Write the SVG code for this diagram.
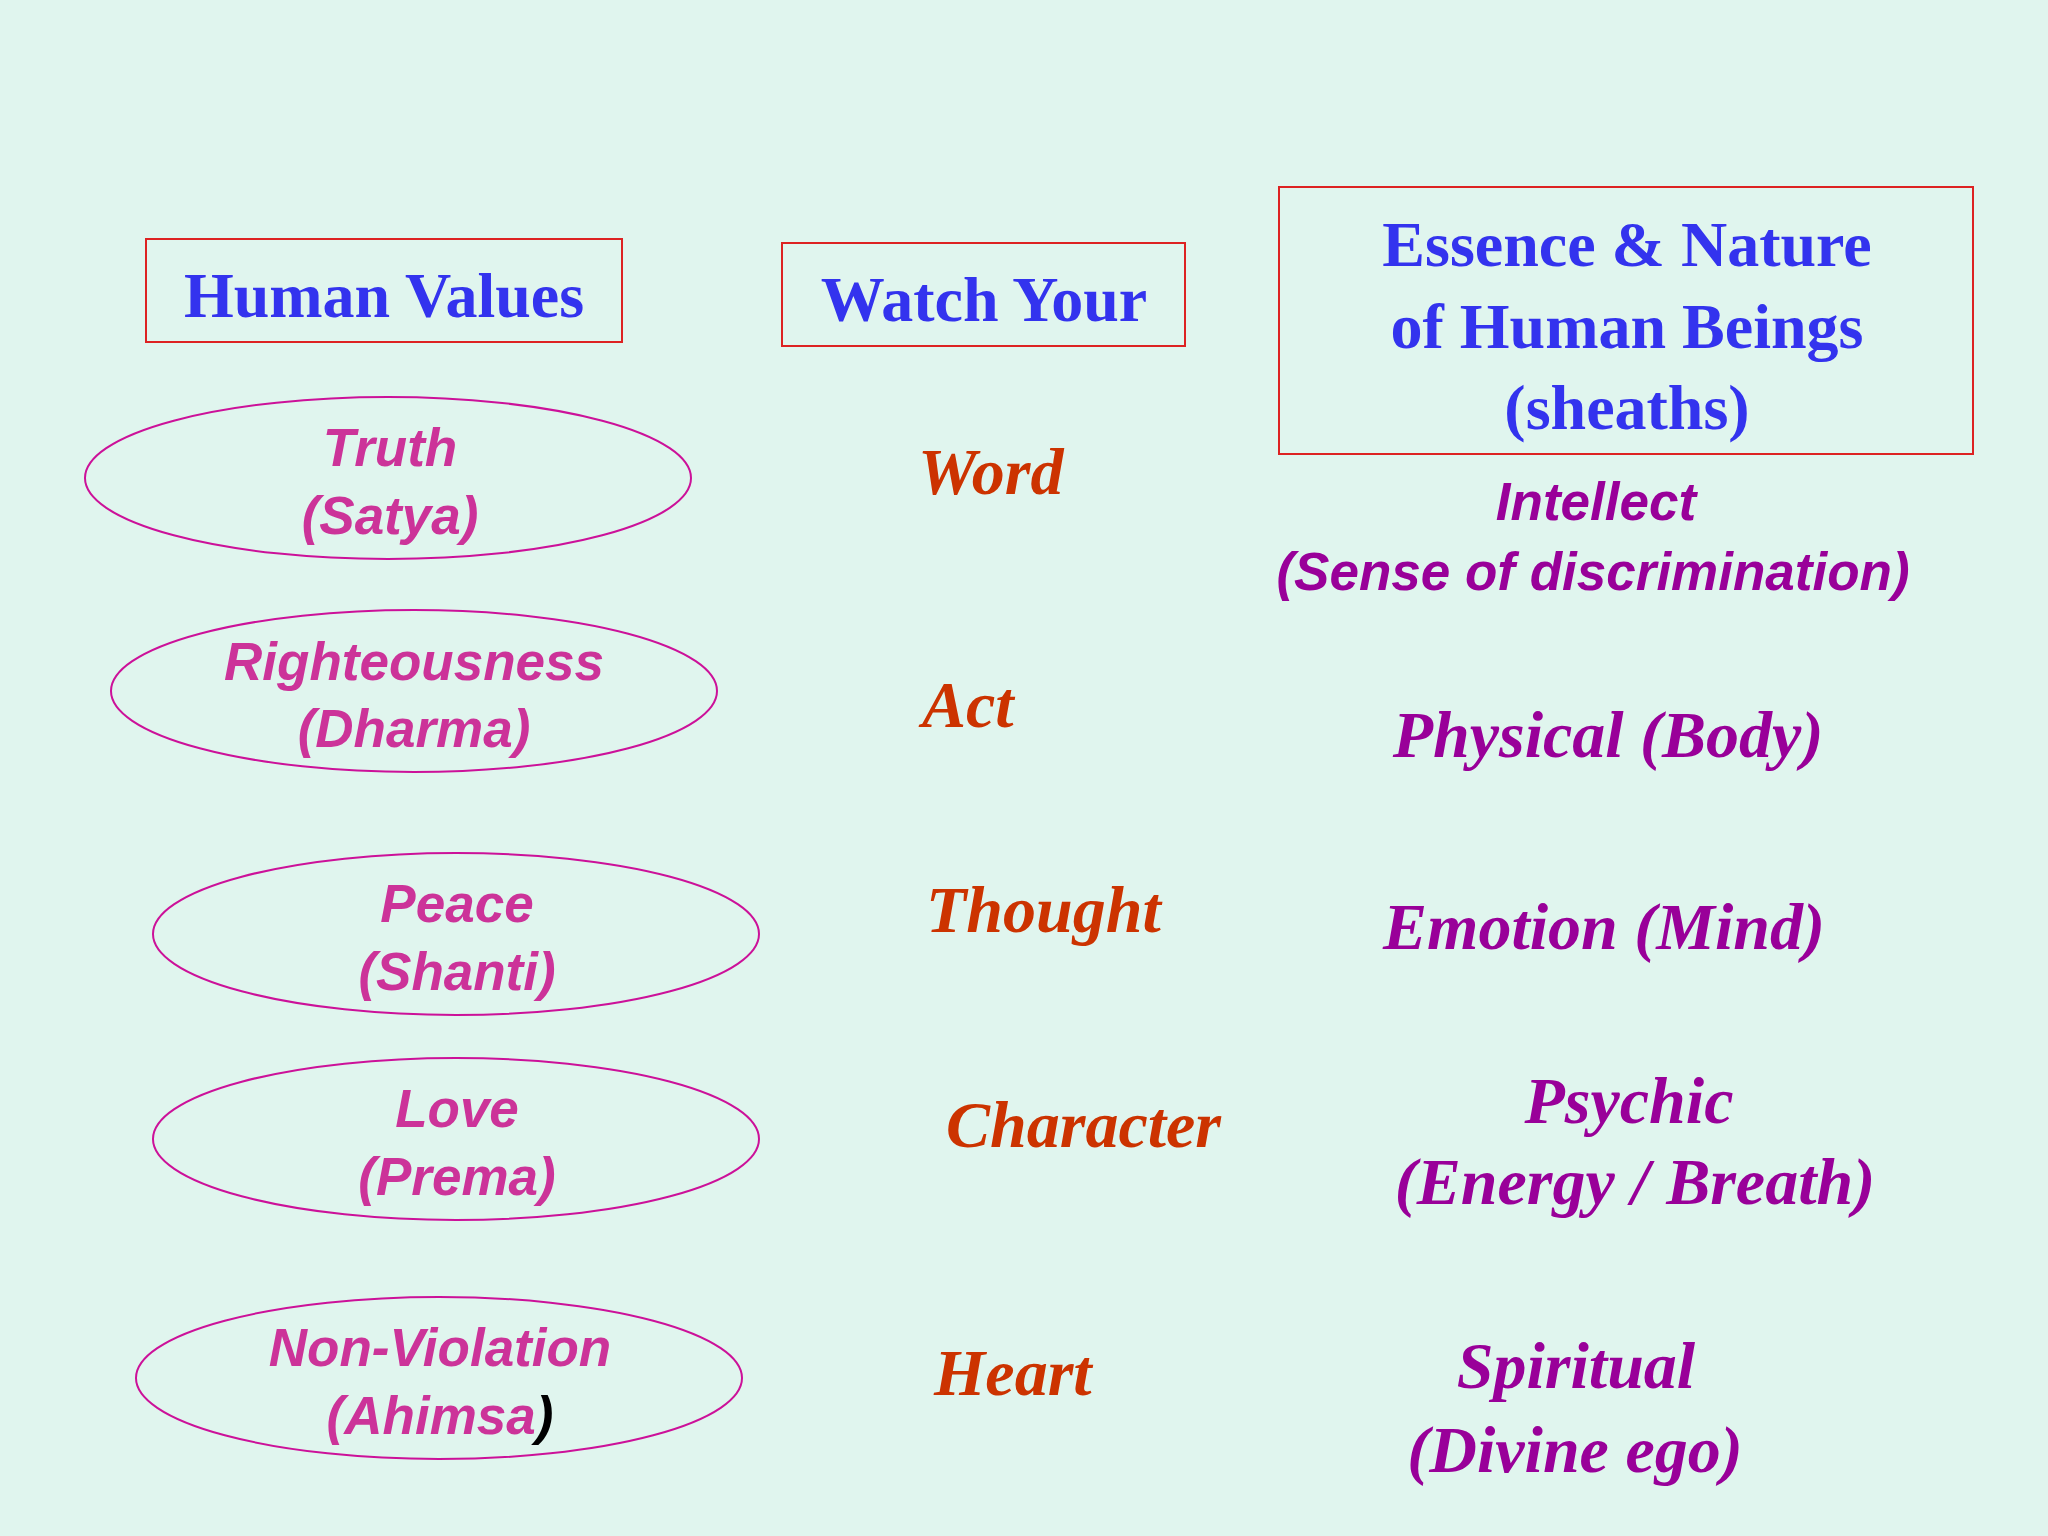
<svg xmlns="http://www.w3.org/2000/svg" width="2048" height="1536" viewBox="0 0 2048 1536">
<style>
.box{fill:none;stroke:#DD2222;stroke-width:2}
.hd{font-family:"Liberation Serif",serif;font-weight:bold;font-size:64px;fill:#3333EE;text-anchor:middle}
.el{fill:none;stroke:#CC1199;stroke-width:2}
.ev{font-family:"Liberation Sans",sans-serif;font-weight:bold;font-style:italic;font-size:53px;fill:#CC3399;text-anchor:middle}
.wy{font-family:"Liberation Serif",serif;font-weight:bold;font-style:italic;font-size:66px;fill:#CC3300}
.ss{font-family:"Liberation Serif",serif;font-weight:bold;font-style:italic;font-size:66px;fill:#990099;text-anchor:middle}
.sa{font-family:"Liberation Sans",sans-serif;font-weight:bold;font-style:italic;font-size:53px;fill:#990099;text-anchor:middle}
</style>
<rect width="2048" height="1536" fill="#E0F5EE"/>
<g id="hdr-values"><rect class="box" x="146" y="239" width="476" height="103"/><text class="hd" x="384" y="317">Human Values</text></g>
<g id="hdr-watch"><rect class="box" x="782" y="243" width="403" height="103"/><text class="hd" x="984" y="321">Watch Your</text></g>
<g id="hdr-essence"><rect class="box" x="1279" y="187" width="694" height="267"/>
<text class="hd" x="1627" y="266">Essence &amp; Nature</text>
<text class="hd" x="1627" y="348">of  Human Beings</text>
<text class="hd" x="1627" y="429">(sheaths)</text></g>
<g id="v1"><ellipse class="el" cx="388" cy="478" rx="303" ry="81"/><text class="ev" x="390" y="466">Truth</text><text class="ev" x="390" y="534">(Satya)</text></g>
<g id="v2"><ellipse class="el" cx="414" cy="691" rx="303" ry="81"/><text class="ev" x="414" y="680">Righteousness</text><text class="ev" x="414" y="747">(Dharma)</text></g>
<g id="v3"><ellipse class="el" cx="456" cy="934" rx="303" ry="81"/><text class="ev" x="457" y="922">Peace</text><text class="ev" x="457" y="990">(Shanti)</text></g>
<g id="v4"><ellipse class="el" cx="456" cy="1139" rx="303" ry="81"/><text class="ev" x="457" y="1127">Love</text><text class="ev" x="457" y="1195">(Prema)</text></g>
<g id="v5"><ellipse class="el" cx="439" cy="1378" rx="303" ry="81"/><text class="ev" x="440" y="1366">Non-Violation</text><text class="ev" x="440" y="1434">(Ahimsa<tspan fill="#000">)</tspan></text></g>
<g id="w1"><text class="wy" x="918" y="494">Word</text></g>
<g id="w2"><text class="wy" x="922" y="727">Act</text></g>
<g id="w3"><text class="wy" x="926" y="932">Thought</text></g>
<g id="w4"><text class="wy" x="946" y="1147">Character</text></g>
<g id="w5"><text class="wy" x="934" y="1395">Heart</text></g>
<g id="s1"><text class="sa" x="1596" y="520">Intellect</text><text class="sa" x="1593" y="590">(Sense of discrimination)</text></g>
<g id="s2"><text class="ss" x="1608" y="757">Physical (Body)</text></g>
<g id="s3"><text class="ss" x="1604" y="949">Emotion (Mind)</text></g>
<g id="s4"><text class="ss" x="1629" y="1123">Psychic</text><text class="ss" x="1635" y="1204">(Energy / Breath)</text></g>
<g id="s5"><text class="ss" x="1576" y="1388">Spiritual</text><text class="ss" x="1575" y="1472">(Divine ego)</text></g>
<g id="connectors"/>
</svg>
